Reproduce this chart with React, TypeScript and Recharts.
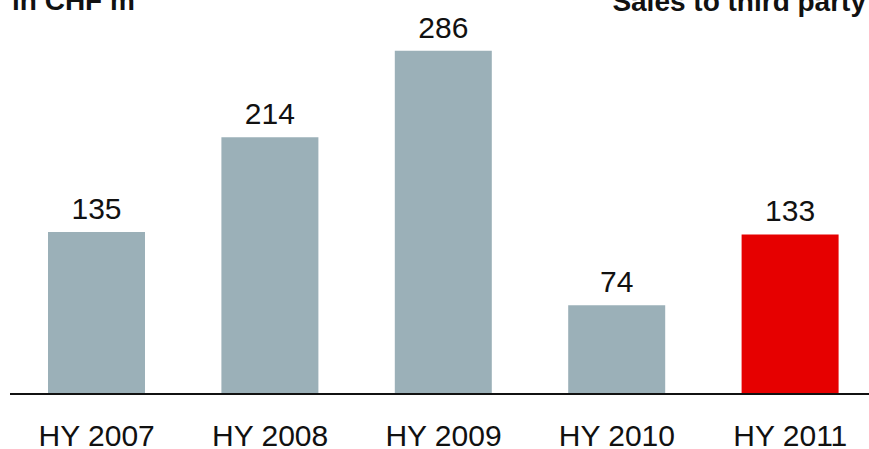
import { BarChart, Bar, XAxis, YAxis, Cell, LabelList } from "recharts";

const periods = ["HY 2007", "HY 2008", "HY 2009", "HY 2010", "HY 2011"];
const sales = [135, 214, 286, 74, 133];
const barColors = ["#9BB0B8", "#9BB0B8", "#9BB0B8", "#9BB0B8", "#E60000"];

const data = periods.map((period, i) => ({ period, sales: sales[i] }));

const font = '"Liberation Sans", Arial, Helvetica, sans-serif';

export default function App() {
  return (
    <div
      style={{
        position: "fixed",
        left: 0,
        top: 0,
        width: 869,
        height: 449,
        overflow: "hidden",
        background: "#fff",
        fontFamily: font,
      }}
    >
      <BarChart
        width={880}
        height={449}
        data={data}
        margin={{ top: 34, right: 3, left: 10, bottom: 0 }}
        barSize={97}
      >
        <XAxis
          dataKey="period"
          height={55}
          tickLine={false}
          tickSize={0}
          tickMargin={31}
          axisLine={{ stroke: "#111", strokeWidth: 2 }}
          tick={{ fill: "#111", fontSize: 30, fontFamily: font }}
          interval={0}
        />
        <YAxis hide domain={[0, 300]} />
        <Bar dataKey="sales" isAnimationActive={false}>
          {data.map((d, i) => (
            <Cell key={d.period} fill={barColors[i]} />
          ))}
          <LabelList
            dataKey="sales"
            position="top"
            offset={13}
            fill="#111"
            fontSize={30}
            fontFamily={font}
          />
        </Bar>
      </BarChart>
      <svg
        width={869}
        height={40}
        style={{ position: "absolute", left: 0, top: 0 }}
      >
        <text x={12} y={10} fontSize={28} fontWeight="bold" fill="#111" fontFamily={font}>
          in CHF m
        </text>
        <text
          x={866}
          y={11}
          fontSize={28}
          fontWeight="bold"
          fill="#111"
          textAnchor="end"
          fontFamily={font}
        >
          Sales to third party
        </text>
      </svg>
    </div>
  );
}
